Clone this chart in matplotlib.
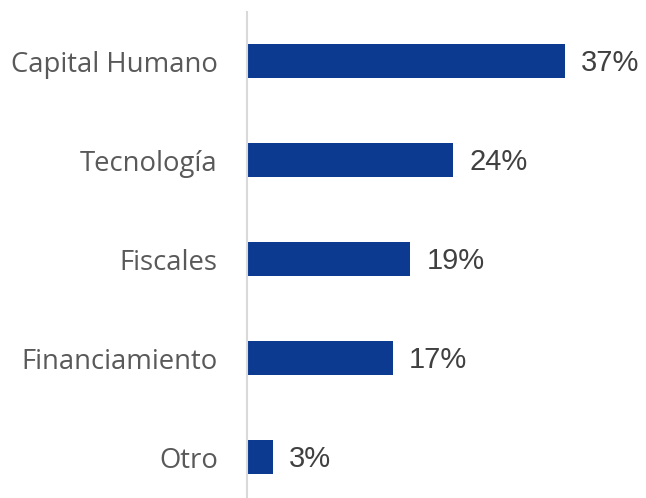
import matplotlib.pyplot as plt

categories = ['Capital Humano', 'Tecnología', 'Fiscales', 'Financiamiento', 'Otro']
values = [37, 24, 19, 17, 3]
labels = ['37%', '24%', '19%', '17%', '3%']

W, H = 646, 498
fig = plt.figure(figsize=(W / 100, H / 100), dpi=100)
# axes placed in pixel units: left edge on the vertical axis line
left, right, top = 247, 641, 12
ax = fig.add_axes([left / W, 0, (right - left) / W, (H - top) / H])

ypos = list(range(len(categories)))[::-1]
ax.barh(ypos, values, height=0.345, color='#0B3A90', zorder=2)

for y, v, lab in zip(ypos, values, labels):
    ax.annotate(lab, (v, y), xytext=(11.5, -1.5), textcoords='offset points',
                va='center', ha='left', fontsize=21, color='#404040',
                family='Liberation Sans')

ax.set_xlim(0, (right - left) / 8.6)
ax.set_ylim(-0.414, 4.495)
ax.set_yticks(ypos)
ax.set_yticklabels(categories, fontsize=19.8, color='#595959', family='Open Sans')
ax.tick_params(axis='y', length=0, pad=21)
ax.set_xticks([])
for s in ['top', 'right', 'bottom']:
    ax.spines[s].set_visible(False)
ax.spines['left'].set_color('#D9D9D9')
ax.spines['left'].set_linewidth(1.5)

fig.savefig('out.png', dpi=100)
